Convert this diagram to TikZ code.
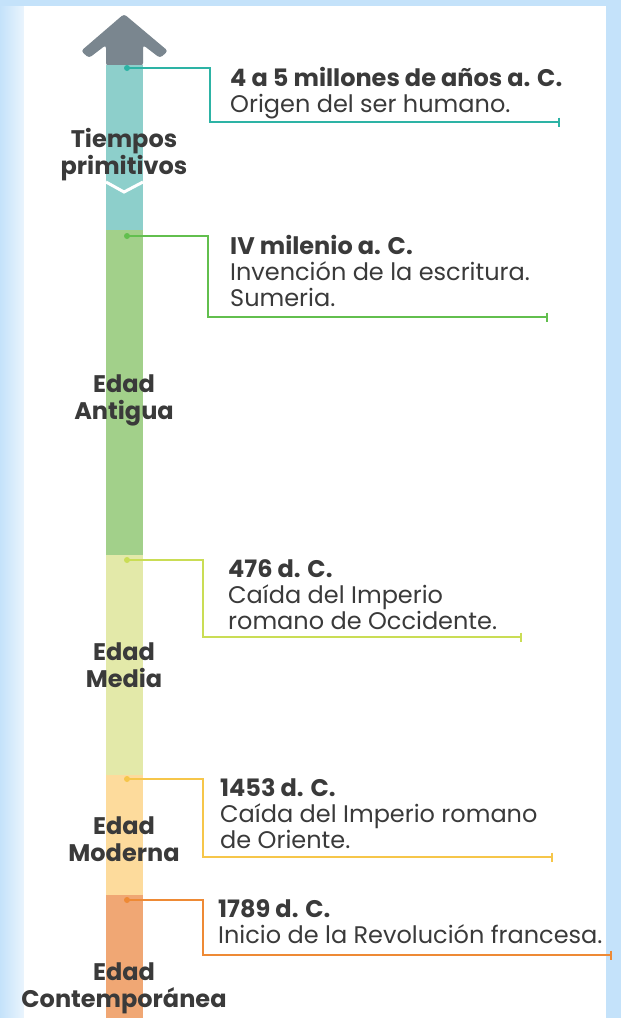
\documentclass[tikz,border=0pt]{standalone}
\usepackage{fontspec}
\setmainfont{Poppins}
\usetikzlibrary{arrows.meta}

\definecolor{arrowgray}{HTML}{7A868F}
\definecolor{tealbar}{HTML}{8DCFCB}
\definecolor{tealline}{HTML}{2DB3A5}
\definecolor{greenbar}{HTML}{A2D08A}
\definecolor{greenline}{HTML}{62BF4E}
\definecolor{limebar}{HTML}{E3E9A9}
\definecolor{limeline}{HTML}{CADD55}
\definecolor{sandbar}{HTML}{FDDB9C}
\definecolor{sandline}{HTML}{F6C64A}
\definecolor{rustbar}{HTML}{F0A774}
\definecolor{rustline}{HTML}{EE8A35}
\definecolor{frameblue}{HTML}{C4E2FA}
\definecolor{textgray}{HTML}{3A3A3A}

\tikzset{
  timeline/.style={
    x=1pt, y=-1pt,
    every node/.style={inner sep=0pt, text=textgray},
    dot/.style={circle, fill=##1, minimum size=6pt},
    link/.style={draw=##1, line width=1.6pt, -{Bar[width=9pt,line width=1.6pt]}},
    era/.style={font=\fontsize{24}{27}\selectfont\bfseries, align=center},
    event/.style={font=\fontsize{24}{26}\selectfont, align=left, anchor=north west},
  }
}

\begin{document}
\begin{tikzpicture}[timeline]
    \useasboundingbox (0,0) rectangle (621,1018);
    \fill[frameblue] (0,0) rectangle (621,1018);
    \shade[left color=frameblue, right color=frameblue!35] (0,6) rectangle (24,1018);
    \fill[white] (24,6) rectangle (606,1018);

    % bar
    \fill[arrowgray, rounded corners=3pt] (124,14) -- (168,51) -- (160,58) -- (143,45)
        -- (143,66) -- (106,66) -- (106,45) -- (89,58) -- (81,51) -- cycle;
    \fill[tealbar] (106,65) rectangle (143,230);
    \draw[white, line width=3pt] (106,182) -- (124,192) -- (143,182);
    \fill[greenbar] (106,230) rectangle (143,555);
    \fill[limebar] (106,555) rectangle (143,775);
    \fill[sandbar] (106,775) rectangle (143,895);
    \fill[rustbar] (106,895) rectangle (143,1018);

    % eras
    \node[era] (tiempos) at (124,155) {Tiempos\\primitivos};
    \node[era] (antigua) at (124,400) {Edad\\Antigua};
    \node[era] (media) at (124,665) {Edad\\Media};
    \node[era] (moderna) at (124,839) {Edad\\Moderna};
    \node[era] (contemp) at (124,988) {Edad\\Contemporánea};

    % events
    \node[dot=tealline] (d1) at (127,68) {};
    \coordinate (k1) at (210,68);
    \coordinate (e1) at (560,122);
    \draw[link=tealline] (d1.center) -- (k1) |- (e1);
    \node[event] (t1) at (230,67) {\textbf{4 a 5 millones de años a. C.}\\Origen del ser humano.};

    \node[dot=greenline] (d2) at (127,236) {};
    \coordinate (k2) at (208,236);
    \coordinate (e2) at (548,317);
    \draw[link=greenline] (d2.center) -- (k2) |- (e2);
    \node[event] (t2) at (230,235) {\textbf{IV milenio a. C.}\\Invención de la escritura.\\Sumeria.};

    \node[dot=limeline] (d3) at (127,560) {};
    \coordinate (k3) at (203,560);
    \coordinate (e3) at (522,637);
    \draw[link=limeline] (d3.center) -- (k3) |- (e3);
    \node[event] (t3) at (228,559) {\textbf{476 d. C.}\\Caída del Imperio\\romano de Occidente.};

    \node[dot=sandline] (d4) at (127,779) {};
    \coordinate (k4) at (203,779);
    \coordinate (e4) at (553,857);
    \draw[link=sandline] (d4.center) -- (k4) |- (e4);
    \node[event] (t4) at (220,778) {\textbf{1453 d. C.}\\Caída del Imperio romano\\de Oriente.};

    \node[dot=rustline] (d5) at (127,900) {};
    \coordinate (k5) at (203,900);
    \coordinate (e5) at (612,955);
    \draw[link=rustline] (d5.center) -- (k5) |- (e5);
    \node[event] (t5) at (218,899) {\textbf{1789 d. C.}\\Inicio de la Revolución francesa.};
\end{tikzpicture}
\end{document}
